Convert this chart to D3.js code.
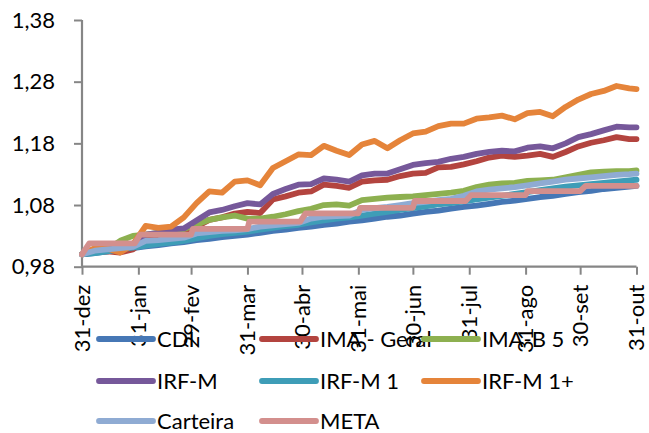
<!DOCTYPE html>
<html><head><meta charset="utf-8">
<script src="https://cdn.jsdelivr.net/npm/d3@7"></script>
<style>
html,body{margin:0;padding:0;background:#fff;}
svg{display:block;font-family:Lato,"Noto Sans",sans-serif;}
</style></head>
<body>
<svg id="c" width="649" height="433"></svg>
<script>
const dates = ["2015-12-31","2016-01-07","2016-01-14","2016-01-21","2016-01-28","2016-02-04","2016-02-11","2016-02-18","2016-02-25","2016-03-03","2016-03-10","2016-03-17","2016-03-24","2016-03-31","2016-04-07","2016-04-14","2016-04-21","2016-04-28","2016-05-05","2016-05-12","2016-05-19","2016-05-26","2016-06-02","2016-06-09","2016-06-16","2016-06-23","2016-06-30","2016-07-07","2016-07-14","2016-07-21","2016-07-28","2016-08-04","2016-08-11","2016-08-18","2016-08-25","2016-09-01","2016-09-08","2016-09-15","2016-09-22","2016-09-29","2016-10-06","2016-10-13","2016-10-20","2016-10-27","2016-10-31"];
const cdi = [1.000,1.002,1.005,1.008,1.010,1.013,1.015,1.018,1.020,1.023,1.025,1.028,1.030,1.032,1.035,1.038,1.040,1.043,1.045,1.048,1.050,1.053,1.055,1.058,1.061,1.063,1.066,1.069,1.071,1.074,1.077,1.079,1.082,1.085,1.087,1.090,1.093,1.095,1.098,1.101,1.103,1.106,1.108,1.110,1.111];
const imaGeral = [1.000,1.004,1.005,1.003,1.008,1.024,1.027,1.032,1.036,1.045,1.056,1.060,1.066,1.069,1.067,1.089,1.094,1.100,1.102,1.113,1.111,1.108,1.118,1.120,1.121,1.127,1.131,1.132,1.141,1.142,1.146,1.151,1.157,1.160,1.158,1.160,1.163,1.158,1.166,1.175,1.181,1.185,1.190,1.187,1.187];
const imaB5 = [1.000,1.006,1.008,1.022,1.030,1.032,1.035,1.038,1.041,1.048,1.056,1.060,1.063,1.058,1.058,1.061,1.065,1.070,1.074,1.080,1.081,1.079,1.088,1.090,1.092,1.093,1.094,1.096,1.098,1.100,1.103,1.109,1.113,1.115,1.116,1.119,1.120,1.121,1.125,1.129,1.133,1.134,1.135,1.135,1.136];
const irfm = [1.000,1.008,1.009,1.008,1.016,1.032,1.035,1.040,1.042,1.055,1.068,1.072,1.078,1.083,1.081,1.098,1.106,1.113,1.114,1.123,1.121,1.118,1.128,1.131,1.131,1.138,1.145,1.148,1.150,1.155,1.158,1.163,1.166,1.168,1.167,1.173,1.175,1.172,1.180,1.190,1.195,1.201,1.207,1.206,1.206];
const irfm1 = [1.000,1.002,1.005,1.008,1.011,1.014,1.017,1.019,1.022,1.026,1.030,1.033,1.035,1.037,1.040,1.043,1.046,1.048,1.052,1.055,1.058,1.060,1.063,1.066,1.069,1.072,1.075,1.078,1.081,1.083,1.086,1.089,1.092,1.095,1.098,1.101,1.104,1.107,1.110,1.112,1.114,1.116,1.118,1.120,1.121];
const irfm1p = [1.000,1.010,1.009,1.003,1.016,1.046,1.043,1.045,1.060,1.083,1.102,1.100,1.118,1.120,1.112,1.140,1.151,1.162,1.161,1.176,1.168,1.161,1.178,1.184,1.172,1.185,1.196,1.199,1.208,1.212,1.212,1.220,1.222,1.225,1.219,1.229,1.231,1.224,1.239,1.251,1.260,1.265,1.273,1.269,1.268];
const carteira = [1.000,1.006,1.008,1.010,1.012,1.022,1.023,1.025,1.027,1.034,1.036,1.038,1.039,1.041,1.045,1.047,1.049,1.051,1.058,1.061,1.062,1.063,1.072,1.075,1.077,1.080,1.083,1.085,1.088,1.090,1.095,1.102,1.105,1.107,1.109,1.112,1.115,1.118,1.121,1.123,1.125,1.127,1.129,1.130,1.131];
const metaDates = ["2015-12-31","2016-01-04","2016-01-29","2016-02-01","2016-02-29","2016-03-01","2016-03-31","2016-04-01","2016-04-29","2016-05-02","2016-05-31","2016-06-01","2016-06-30","2016-07-01","2016-07-29","2016-08-01","2016-08-31","2016-09-01","2016-09-30","2016-10-03","2016-10-31"];
const meta = [1.000,1.0177,1.0177,1.0320,1.0320,1.0413,1.0413,1.0530,1.0530,1.0665,1.0665,1.0755,1.0755,1.0865,1.0865,1.0961,1.0961,1.1025,1.1025,1.1109,1.1109];

const seriesNames = ["CDI","IMA - Geral","IMA-B 5","IRF-M","IRF-M 1","IRF-M 1+","Carteira","META"];
const seriesColors = ["#4677B5","#B3443F","#8DB050","#76589A","#3E9DB7","#E5843A","#8FABD3","#D38F8D"];

const tickDates = ["2015-12-31","2016-01-31","2016-02-29","2016-03-31","2016-04-30","2016-05-31","2016-06-30","2016-07-31","2016-08-31","2016-09-30","2016-10-31"];
const tickLabels = ["31-dez","31-jan","29-fev","31-mar","30-abr","31-mai","30-jun","31-jul","31-ago","30-set","31-out"];
const yTicks = [0.98,1.08,1.18,1.28,1.38];

const parse = d3.utcParse("%Y-%m-%d");
const svg = d3.select("#c");

const x = d3.scaleUtc().domain([parse("2015-12-31"), parse("2016-10-31")]).range([82, 636.5]);
const y = d3.scaleLinear().domain([0.98, 1.38]).range([266.7, 20]);

const axisColor = "#868686";
const fontSize = 22;

// y axis
const gy = svg.append("g").attr("transform","translate(82,0)")
  .call(d3.axisLeft(y).tickValues(yTicks).tickSize(8).tickPadding(19)
    .tickFormat(d => d3.format(".2f")(d).replace(".", ",")));
gy.selectAll("text").attr("font-size", fontSize).attr("fill","#000").attr("font-family","Lato");
gy.selectAll("line").attr("stroke", axisColor).attr("stroke-width",2);
gy.select(".domain").attr("stroke", axisColor).attr("stroke-width",2.2).attr("d","M0,20V266.7");

// series
const allSeries = [
  {dates: dates, vals: cdi},
  {dates: dates, vals: imaGeral},
  {dates: dates, vals: imaB5},
  {dates: dates, vals: irfm},
  {dates: dates, vals: irfm1},
  {dates: dates, vals: irfm1p},
  {dates: dates, vals: carteira},
  {dates: metaDates, vals: meta}
];
const line = d3.line().x(d => x(d[0])).y(d => y(d[1])).curve(d3.curveLinear);
allSeries.forEach((s, i) => {
  const pts = s.vals.map((v, j) => [parse(s.dates[j]), v]);
  svg.append("path").attr("d", line(pts)).attr("fill","none")
    .attr("stroke", seriesColors[i]).attr("stroke-width",5.8)
    .attr("stroke-linejoin","round").attr("stroke-linecap","round");
});

// x axis
const tickDateObjs = tickDates.map(parse);
const gx = svg.append("g").attr("transform","translate(0,266.7)")
  .call(d3.axisBottom(x).tickValues(tickDateObjs).tickSize(8).tickFormat(""));
gx.selectAll("line").attr("stroke", axisColor).attr("stroke-width",2);
gx.select(".domain").attr("stroke", axisColor).attr("stroke-width",2.2).attr("d","M82,0H636.5");
gx.selectAll(".tick").append("text")
  .attr("transform","translate(0,18) rotate(-90)")
  .attr("text-anchor","end").attr("dy","0.33em")
  .attr("font-size", fontSize).attr("font-family","Lato").attr("fill","#000")
  .text((d, i) => tickLabels[i]);

// legend
const legCols = [99, 262, 424];
const legRows = [339, 381, 421];
seriesNames.forEach((name, i) => {
  const cx = legCols[i % 3], cy = legRows[Math.floor(i / 3)];
  const g = svg.append("g").attr("transform", `translate(${cx},${cy})`);
  g.append("line").attr("x1",0).attr("x2",54).attr("y1",0).attr("y2",0)
    .attr("stroke", seriesColors[i]).attr("stroke-width",5.8).attr("stroke-linecap","round");
  g.append("text").attr("x",58).attr("dy","0.36em").attr("font-size",fontSize)
    .attr("font-family","Lato").attr("fill","#000").text(name);
});
</script>
</body></html>
